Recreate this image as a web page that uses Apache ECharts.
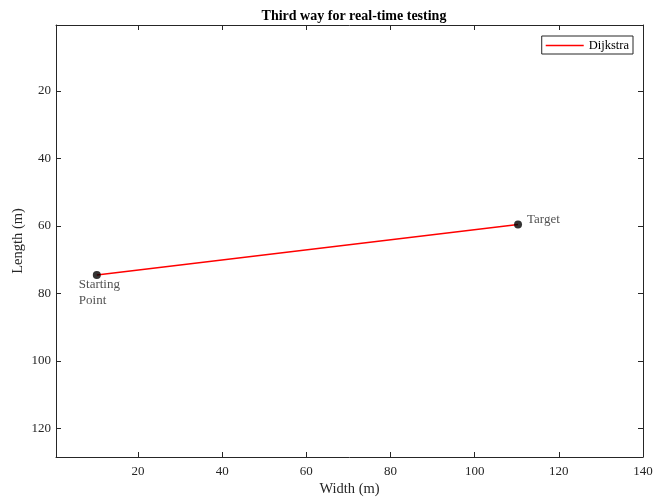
<!DOCTYPE html>
<html><head><meta charset="utf-8">
<script src="https://cdn.jsdelivr.net/npm/echarts@6/dist/echarts.min.js"></script>
<style>html,body{margin:0;padding:0;background:#fff}#c{width:653px;height:500px}</style>
</head><body><div id="c"></div>
<script>
const xTicks = [20, 40, 60, 80, 100, 120, 140];
const yTicks = [20, 40, 60, 80, 100, 120];
const pathX = [10.2, 110.3];
const pathY = [74.6, 59.6];
const pointNames = ['Starting\nPoint', 'Target'];
const seriesName = 'Dijkstra';

const font = 'Liberation Serif, Times New Roman, serif';
const axisCol = '#262626';
const chart = echarts.init(document.getElementById('c'));
const linePts = pathX.map((x, i) => [x, pathY[i]]);
const baseX = {
  type: 'value', min: 0.5, max: 140,
  axisLine: { show: true, lineStyle: { color: axisCol, width: 1 } },
  axisTick: { show: true, inside: true, length: 5, customValues: xTicks, lineStyle: { color: axisCol } },
  splitLine: { show: false },
};
const baseY = {
  type: 'value', min: 0.5, max: 128.5, inverse: true,
  axisLine: { show: true, lineStyle: { color: axisCol, width: 1 } },
  axisTick: { show: true, inside: true, length: 5, customValues: yTicks, lineStyle: { color: axisCol } },
  splitLine: { show: false },
};
chart.setOption({
  animation: false,
  backgroundColor: '#fff',
  title: {
    text: 'Third way for real-time testing', left: 349, top: 4, textAlign: 'center',
    textStyle: { fontFamily: font, fontWeight: 'bold', fontSize: 14, color: '#000' }
  },
  legend: {
    data: [{ name: seriesName, icon: 'rect' }], right: 20, top: 36, orient: 'vertical',
    itemWidth: 38, itemHeight: 1.5, itemGap: 4,
    padding: [3, 4, 2, 4],
    borderColor: axisCol, borderWidth: 1, backgroundColor: '#fff',
    textStyle: { fontFamily: font, fontSize: 12.5, color: '#000' }
  },
  grid: { left: 56, top: 25, right: 10, bottom: 43, containLabel: false, outerBoundsMode: 'none' },
  xAxis: [
    Object.assign({}, baseX, {
      position: 'bottom',
      name: 'Width (m)', nameLocation: 'middle', nameGap: 25, nameMoveOverlap: false,
      nameTextStyle: { fontFamily: font, fontSize: 14.5, color: axisCol },
      axisLabel: { show: true, customValues: xTicks, fontFamily: font, fontSize: 13, color: axisCol, margin: 8 }
    }),
    Object.assign({}, baseX, { position: 'top', axisLabel: { show: false } })
  ],
  yAxis: [
    Object.assign({}, baseY, {
      position: 'left',
      name: 'Length (m)', nameLocation: 'middle', nameGap: 30, nameMoveOverlap: false,
      nameTextStyle: { fontFamily: font, fontSize: 14.5, color: axisCol },
      axisLabel: { show: true, customValues: yTicks, fontFamily: font, fontSize: 13, color: axisCol, margin: 5 }
    }),
    Object.assign({}, baseY, { position: 'right', axisLabel: { show: false } })
  ],
  series: [
    {
      name: seriesName, type: 'line', data: linePts, symbol: 'none',
      lineStyle: { color: '#ff0000', width: 1.5 }, itemStyle: { color: '#ff0000' }
    },
    {
      name: 'points', type: 'scatter', symbolSize: 8,
      itemStyle: { color: '#000' },
      data: [
        { value: linePts[0], label: { show: true, formatter: pointNames[0], position: 'bottom', distance: 1, align: 'left', offset: [-18, -4], lineHeight: 16 } },
        { value: linePts[1], label: { show: true, formatter: pointNames[1], position: 'right', distance: 5, offset: [0, -5] } }
      ],
      label: { fontFamily: font, fontSize: 13, color: axisCol },
      z: 5
    }
  ]
});
</script></body></html>
